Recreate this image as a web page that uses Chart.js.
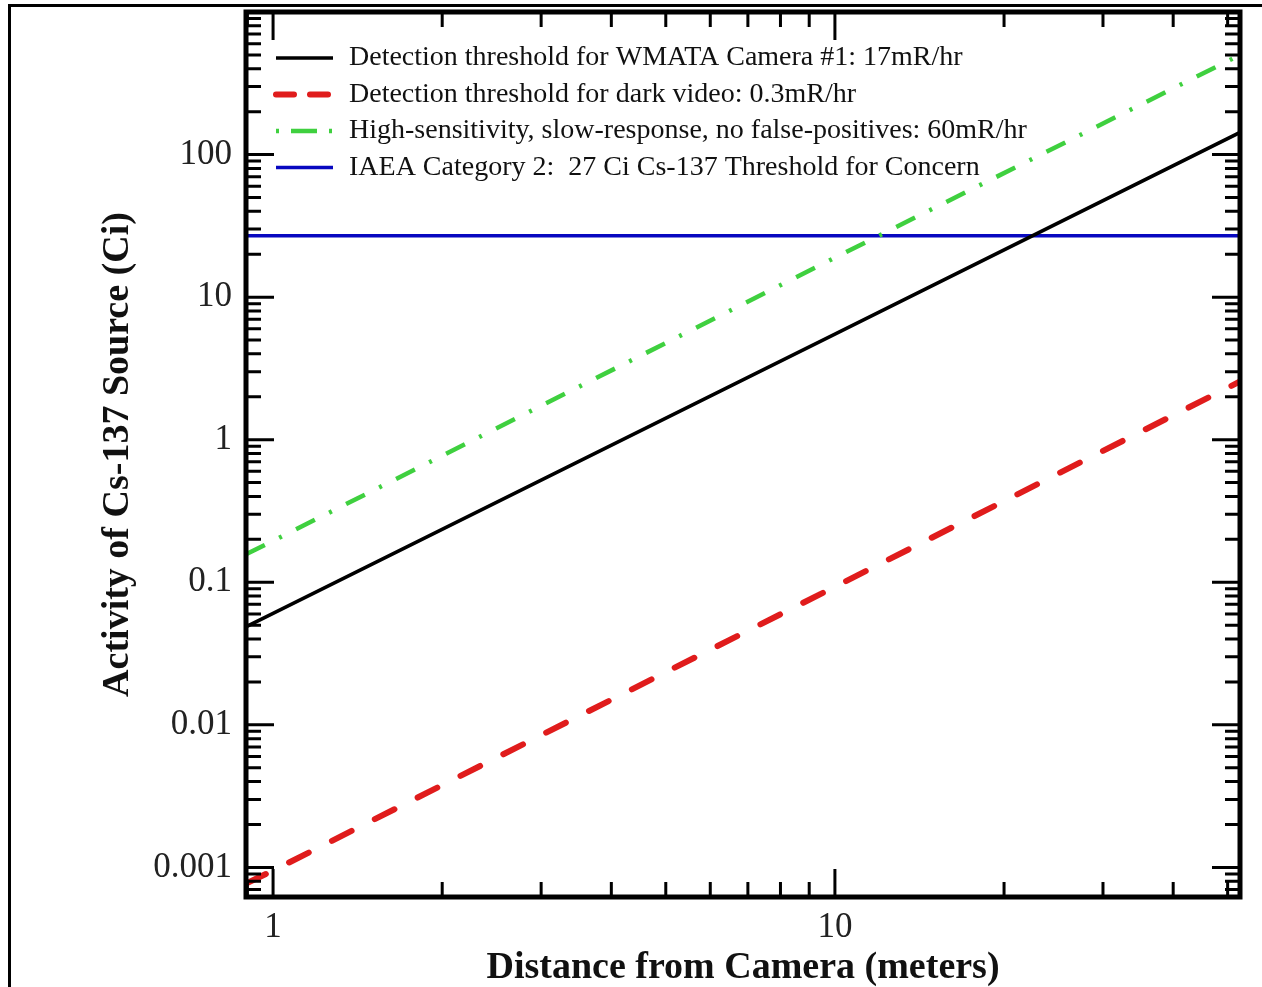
<!DOCTYPE html>
<html>
<head>
<meta charset="utf-8">
<script src="https://cdn.jsdelivr.net/npm/chart.js@4.4.1/dist/chart.umd.min.js"></script>
<style>
  body { margin: 0; background: #fff; }
  #wrap { position: relative; width: 1262px; height: 987px; }
  #frame { position: absolute; left: 8px; top: 4px; right: -10px; bottom: -10px; border-top: 3px solid #000; border-left: 3px solid #000; pointer-events: none; }
</style>
</head>
<body>
<div id="wrap">
  <canvas id="chart"></canvas>
  <div id="frame"></div>
</div>
<script>
// distances (m) read at the plot edges and at 1 m / 10 m
const distances = [0.895, 1, 10, 52.6];
const wmataCamera = [0.0487, 0.0605, 5.5, 143];
const darkVideo = [0.00077, 0.00095, 0.093, 2.56];
const highSensitivity = [0.157, 0.195, 18.9, 500];
const iaeaDistances = [0.895, 52.6];
const iaeaThreshold = [27, 27];

const seriesLabels = [
    'Detection threshold for WMATA Camera #1: 17mR/hr',
    'Detection threshold for dark video: 0.3mR/hr',
    'High-sensitivity, slow-response, no false-positives: 60mR/hr',
    'IAEA Category 2:  27 Ci Cs-137 Threshold for Concern'
];
const xTickLabels = [1, 10];
const yTickLabels = [0.001, 0.01, 0.1, 1, 10, 100];
const xRange = [0.895, 52.6];
const yRange = [0.00062, 1000];

const SERIF = "'Liberation Serif', 'DejaVu Serif', serif";

function points(xs, ys) {
    return xs.map((x, i) => ({x: x, y: ys[i]}));
}

// every k*10^n value between min and max, used for the inward tick marks
function logTicks(min, max) {
    const out = [];
    for (let e = Math.floor(Math.log10(min)); e <= Math.ceil(Math.log10(max)); e++) {
        for (let k = 1; k < 10; k++) {
            const v = k * Math.pow(10, e);
            if (v >= min * 0.999 && v <= max * 1.001) out.push({value: v, major: k === 1});
        }
    }
    return out;
}

const frameTicks = {
    id: 'frameTicks',
    afterDraw(chart) {
        const {ctx, chartArea: a, scales: {x, y}} = chart;
        ctx.save();
        ctx.strokeStyle = '#000';
        ctx.lineWidth = 3;
        ctx.beginPath();
        logTicks(x.min, x.max).forEach(t => {
            const px = x.getPixelForValue(t.value);
            const len = t.major ? 28 : 15;
            ctx.moveTo(px, a.bottom); ctx.lineTo(px, a.bottom - len);
            ctx.moveTo(px, a.top); ctx.lineTo(px, a.top + len);
        });
        logTicks(y.min, y.max).forEach(t => {
            const py = y.getPixelForValue(t.value);
            const len = t.major ? 28 : 15;
            ctx.moveTo(a.left, py); ctx.lineTo(a.left + len, py);
            ctx.moveTo(a.right, py); ctx.lineTo(a.right - len, py);
        });
        ctx.stroke();
        ctx.lineWidth = 5;
        ctx.strokeRect(a.left, a.top, a.right - a.left, a.bottom - a.top);
        ctx.restore();
    }
};

const insideLegend = {
    id: 'insideLegend',
    afterDatasetsDraw(chart, args, opts) {
        const {ctx, chartArea: a} = chart;
        ctx.save();
        ctx.font = opts.font;
        ctx.textBaseline = 'middle';
        ctx.fillStyle = '#111';
        chart.data.datasets.forEach((ds, i) => {
            const yy = a.top + opts.top + i * opts.rowGap;
            ctx.strokeStyle = ds.borderColor;
            ctx.lineWidth = ds.borderWidth;
            ctx.lineCap = ds.borderCapStyle || 'butt';
            ctx.setLineDash(ds.legendDash || []);
            ctx.beginPath();
            ctx.moveTo(a.left + opts.lineStart, yy);
            ctx.lineTo(a.left + opts.lineEnd, yy);
            ctx.stroke();
            ctx.setLineDash([]);
            ctx.fillText(ds.label, a.left + opts.textStart, yy);
        });
        ctx.restore();
    }
};

const chart = new Chart(document.getElementById('chart'), {
    type: 'line',
    data: {
        datasets: [{
            label: seriesLabels[0],
            data: points(distances, wmataCamera),
            borderColor: '#000000',
            borderWidth: 3.5
        }, {
            label: seriesLabels[1],
            data: points(distances, darkVideo),
            borderColor: '#e01c1c',
            borderWidth: 6,
            borderDash: [22, 26],
            borderCapStyle: 'round',
            legendDash: [18, 16]
        }, {
            label: seriesLabels[2],
            data: points(distances, highSensitivity),
            borderColor: '#3fd03f',
            borderWidth: 4.5,
            borderDash: [21, 16, 3, 16],
            legendDash: [3, 12, 26, 12]
        }, {
            label: seriesLabels[3],
            data: points(iaeaDistances, iaeaThreshold),
            borderColor: '#0808c0',
            borderWidth: 3.5
        }]
    },
    options: {
        responsive: true,
        maintainAspectRatio: false,
        animation: false,
        layout: {padding: {top: 12, right: 22, left: 0, bottom: 0}},
        elements: {point: {radius: 0}, line: {tension: 0}},
        plugins: {
            legend: {display: false},
            tooltip: {enabled: false},
            insideLegend: {
                font: '28px ' + SERIF,
                top: 46,
                rowGap: 36.5,
                lineStart: 30,
                lineEnd: 87,
                textStart: 103
            }
        },
        scales: {
            x: {
                type: 'logarithmic',
                position: 'bottom',
                min: xRange[0],
                max: xRange[1],
                bounds: 'data',
                grid: {display: false, drawTicks: false},
                border: {display: false},
                afterBuildTicks: scale => { scale.ticks = xTickLabels.map(v => ({value: v})); },
                afterFit: scale => {
                    scale.height = 90;
                    scale.paddingLeft = 0;
                    scale.paddingRight = 0;
                },
                ticks: {
                    autoSkip: false,
                    maxRotation: 0,
                    padding: 10,
                    color: '#222',
                    font: {family: SERIF, size: 35},
                    callback: v => String(v)
                },
                title: {
                    display: true,
                    text: 'Distance from Camera (meters)',
                    color: '#111',
                    font: {family: SERIF, size: 38, weight: 'bold', lineHeight: 1.0},
                    padding: {top: 0, bottom: 0}
                }
            },
            y: {
                type: 'logarithmic',
                position: 'left',
                min: yRange[0],
                max: yRange[1],
                bounds: 'data',
                grid: {display: false, drawTicks: false},
                border: {display: false},
                afterBuildTicks: scale => { scale.ticks = yTickLabels.map(v => ({value: v})); },
                afterFit: scale => {
                    scale.width = 246;
                    scale.paddingTop = 0;
                    scale.paddingBottom = 0;
                },
                ticks: {
                    autoSkip: false,
                    padding: 14,
                    color: '#222',
                    font: {family: SERIF, size: 35},
                    callback: v => String(v)
                },
                title: {
                    display: true,
                    text: 'Activity of Cs-137 Source (Ci)',
                    color: '#111',
                    font: {family: SERIF, size: 38, weight: 'bold', lineHeight: 1.2},
                    padding: {top: 95, bottom: 0}
                }
            }
        }
    },
    plugins: [insideLegend, frameTicks]
});
</script>
</body>
</html>
